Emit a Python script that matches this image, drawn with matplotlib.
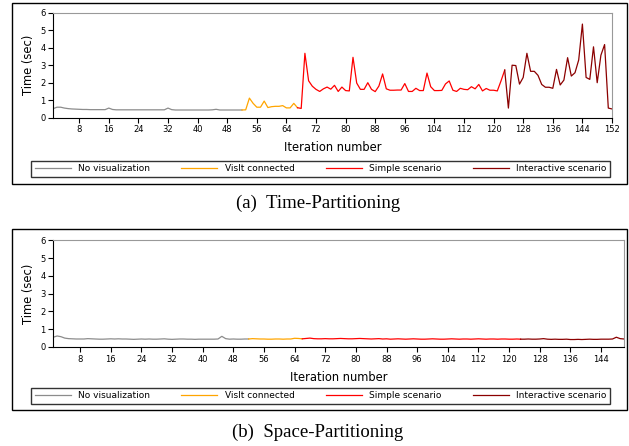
import matplotlib
matplotlib.use('Agg')
import matplotlib.pyplot as plt
from matplotlib.patches import Rectangle

# ---------- (a) Time-Partitioning ----------
a_novis_start = 1
a_novis = [0.52, 0.6, 0.6, 0.55, 0.52, 0.5, 0.49, 0.48, 0.47, 0.47,
           0.46, 0.46, 0.46, 0.46, 0.46, 0.55, 0.47, 0.45, 0.45, 0.45,
           0.45, 0.45, 0.45, 0.45, 0.45, 0.45, 0.45, 0.45, 0.45, 0.45,
           0.45, 0.55, 0.46, 0.44, 0.44, 0.44, 0.44, 0.44, 0.44, 0.44,
           0.44, 0.44, 0.44, 0.45, 0.48, 0.44, 0.44, 0.44, 0.44, 0.44,
           0.44, 0.44]
a_visit_start = 52
a_visit = [0.44, 0.45, 1.12, 0.82, 0.6, 0.6, 0.95, 0.58, 0.63, 0.65,
           0.65, 0.69, 0.56, 0.56, 0.82, 0.57]
a_simple_start = 67
a_simple = [0.57, 0.53, 3.68, 2.11, 1.8, 1.62, 1.5, 1.65, 1.75, 1.63,
            1.85, 1.5, 1.75, 1.55, 1.53, 3.45, 1.98, 1.62, 1.62, 2.0,
            1.62, 1.49, 1.81, 2.5, 1.65, 1.57, 1.57, 1.58, 1.58, 1.95,
            1.5, 1.5, 1.68, 1.55, 1.55, 2.55, 1.77, 1.55, 1.55, 1.56,
            1.93, 2.1, 1.57, 1.5, 1.68, 1.62, 1.6, 1.77, 1.65, 1.9,
            1.53, 1.67, 1.57, 1.57, 1.53, 2.1, 2.72]
a_inter_start = 123
a_inter = [2.72, 0.55, 3.0, 2.98, 1.92, 2.3, 3.68, 2.65, 2.65, 2.42,
           1.9, 1.74, 1.74, 1.68, 2.76, 1.87, 2.15, 3.43, 2.38, 2.57,
           3.3, 5.35, 2.3, 2.19, 4.05, 2.0, 3.57, 4.18, 0.55, 0.5]

# ---------- (b) Space-Partitioning ----------
b_novis_start = 1
b_novis = [0.55, 0.62, 0.58, 0.5, 0.47, 0.46, 0.45, 0.45, 0.45, 0.47,
           0.46, 0.45, 0.44, 0.44, 0.45, 0.46, 0.45, 0.46, 0.45, 0.45,
           0.44, 0.43, 0.44, 0.45, 0.44, 0.45, 0.44, 0.44, 0.45, 0.46,
           0.44, 0.43, 0.44, 0.45, 0.45, 0.44, 0.44, 0.43, 0.44, 0.44,
           0.44, 0.44, 0.44, 0.45, 0.6, 0.47, 0.44, 0.45, 0.44, 0.44,
           0.45, 0.45]
b_visit_start = 52
b_visit = [0.45, 0.47, 0.46, 0.45, 0.45, 0.44, 0.44, 0.45, 0.45, 0.44,
           0.45, 0.45, 0.49, 0.48, 0.46]
b_simple_start = 66
b_simple = [0.46, 0.48, 0.5, 0.47, 0.46, 0.46, 0.47, 0.46, 0.46, 0.47,
            0.48, 0.47, 0.46, 0.46, 0.47, 0.48, 0.47, 0.46, 0.45, 0.46,
            0.47, 0.45, 0.46, 0.44, 0.45, 0.46, 0.45, 0.44, 0.45, 0.46,
            0.45, 0.44, 0.44, 0.45, 0.46, 0.45, 0.44, 0.44, 0.45, 0.46,
            0.45, 0.44, 0.45, 0.45, 0.44, 0.45, 0.46, 0.45, 0.44, 0.45,
            0.45, 0.44, 0.45, 0.45, 0.44, 0.44, 0.45, 0.44]
b_inter_start = 123
b_inter = [0.44, 0.44, 0.45, 0.44, 0.44, 0.45, 0.47, 0.44, 0.43, 0.44,
           0.43, 0.43, 0.44, 0.42, 0.42, 0.43, 0.42, 0.43, 0.44, 0.43,
           0.43, 0.44, 0.44, 0.44, 0.45, 0.55, 0.47, 0.45]

labels = ['No visualization', 'VisIt connected', 'Simple scenario', 'Interactive scenario']
colors = ['#8c8c8c', '#ffa500', '#ff0000', '#8b0000']

W, H = 629, 446
fig = plt.figure(figsize=(W / 100, H / 100), dpi=100)


def px_rect(x0, y0, x1, y1):
    # pixel box (top-left origin) -> figure fraction [left, bottom, width, height]
    return [x0 / W, 1 - y1 / H, (x1 - x0) / W, (y1 - y0) / H]


def panel(box, ax_box, leg_box, caption_y, series, xmax, xticks, caption):
    fig.patches.append(Rectangle((box[0] / W, 1 - box[3] / H),
                                 (box[2] - box[0]) / W, (box[3] - box[1]) / H,
                                 transform=fig.transFigure, fill=False,
                                 edgecolor='black', linewidth=1.0))
    ax = fig.add_axes(px_rect(*ax_box))
    lines = []
    for (start, vals), c, lab in zip(series, colors, labels):
        ln, = ax.plot(range(start, start + len(vals)), vals, color=c,
                      linewidth=0.9, label=lab)
        lines.append(ln)
    ax.set_xlim(1, xmax)
    ax.set_ylim(0, 6)
    ax.set_xticks(xticks)
    ax.set_yticks(range(7))
    ax.tick_params(direction='out', length=3.5, width=0.8, labelsize=6, pad=2)
    for s in ['top', 'right']:
        ax.spines[s].set_color('#999999')
    ax.set_xlabel('Iteration number', fontsize=8.3, labelpad=5)
    ax.set_ylabel('Time (sec)', fontsize=8.3, labelpad=4)
    lb = px_rect(*leg_box)
    leg = fig.legend(lines, labels, loc='lower left', bbox_to_anchor=lb,
                     mode='expand', ncol=4, fontsize=6.5, borderaxespad=0,
                     fancybox=False, handlelength=4, frameon=True)
    leg.get_frame().set_edgecolor('black')
    leg.get_frame().set_linewidth(1.0)
    fig.text(0.505, 1 - caption_y / H, caption, ha='center', va='center',
             fontsize=13.5, family='Liberation Serif')


panel((12, 3, 627, 184), (53.3, 12.7, 612, 117.7), (31, 159, 610, 177), 203,
      [(a_novis_start, a_novis), (a_visit_start, a_visit),
       (a_simple_start, a_simple), (a_inter_start, a_inter)],
      152, range(8, 153, 8), '(a)  Time-Partitioning')
panel((12, 229, 627, 410), (53.3, 240.3, 624, 347), (31, 386, 610, 404), 432,
      [(b_novis_start, b_novis), (b_visit_start, b_visit),
       (b_simple_start, b_simple), (b_inter_start, b_inter)],
      150, range(8, 145, 8), '(b)  Space-Partitioning')

fig.savefig('out.png', dpi=100)
